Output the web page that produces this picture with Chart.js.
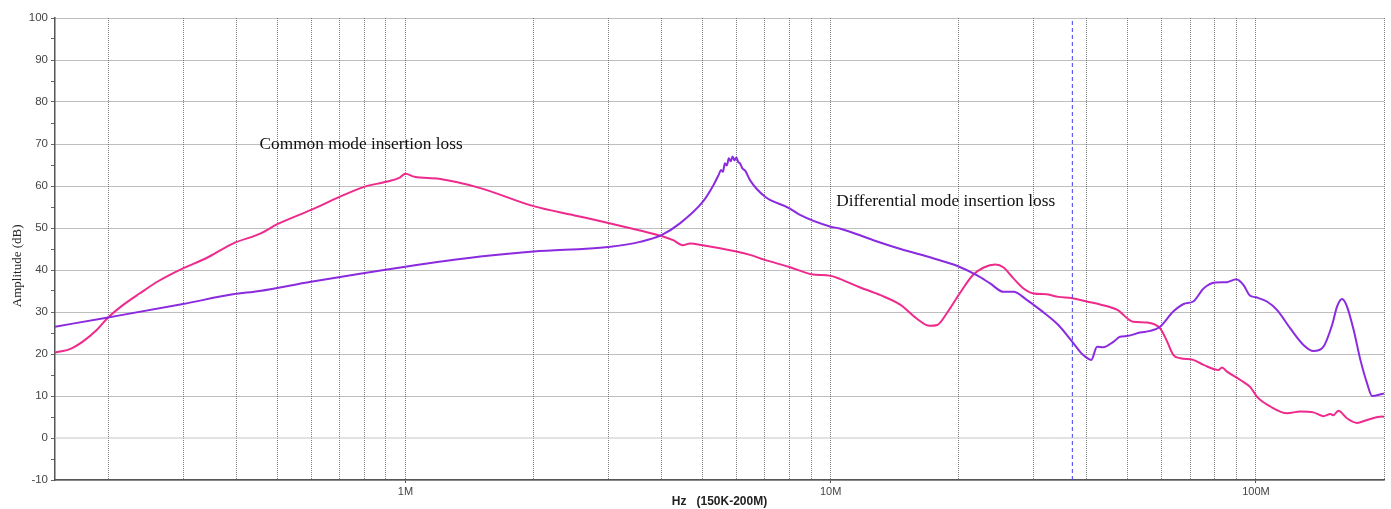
<!DOCTYPE html>
<html><head><meta charset="utf-8">
<script src="https://cdn.jsdelivr.net/npm/chart.js@4.4.1/dist/chart.umd.min.js"></script>
<style>html,body{margin:0;padding:0;background:#fff}#wrap{width:1391px;height:509px;position:relative}</style>
</head><body><div id="wrap"><canvas id="c" width="1391" height="509"></canvas></div>
<script>
// Common mode insertion loss (pink): frequency in MHz, amplitude in dB
const cmFreq = [0.15,0.151,0.162,0.174,0.188,0.2,0.217,0.237,0.264,0.3,0.34,0.393,0.454,0.5,0.6,0.7,0.8,0.9,0.97,1.0,1.05,1.2,1.5,2.0,2.5,3.0,3.56,4.0,4.26,4.49,4.67,5.0,6.0,6.46,7.0,8.0,9.0,10.0,10.5,11.7,13.1,14.6,15.9,17.1,17.8,18.75,20.1,21.6,22.9,24.4,25.5,26.9,28.4,30,32.2,34.3,37,40,43,47.2,51.4,55.5,59.5,61.6,63.9,66.4,71.2,75.3,81.7,83.2,85.5,91.9,97,100.6,108.1,118.3,127.1,136.5,144,149.6,152,156.2,163.7,172.8,182.5,198,200];
const cmDb = [20.3,20.4,21.1,22.9,25.7,28.7,31.7,34.4,37.5,40.4,42.8,46.3,48.6,50.9,54.3,57.4,59.8,61.0,62.0,62.9,62.2,61.7,59.5,55.2,53.0,51.2,49.4,48.1,47.1,45.9,46.3,45.9,44.4,43.6,42.4,40.7,39.0,38.6,37.9,35.9,34.0,31.7,28.5,26.7,26.9,29.7,34.4,38.8,40.6,41.3,40.6,38.0,35.6,34.4,34.2,33.6,33.3,32.5,31.8,30.5,27.7,27.5,26.1,23.3,19.8,19.0,18.6,17.4,16.2,16.8,15.8,13.8,12.1,9.8,7.5,5.9,6.3,6.1,5.2,5.7,5.4,6.5,4.7,3.6,4.3,5.1,5.0];

// Differential mode insertion loss (purple)
const dmFreq = [0.15,0.2,0.3,0.393,0.454,0.6,1.0,1.5,2.0,3.0,3.56,4.0,4.42,5.0,5.3,5.45,5.52,5.58,5.64,5.7,5.76,5.82,5.88,5.94,6.0,6.06,6.12,6.2,6.3,6.46,7.0,8.0,8.47,10.0,10.5,12.6,14.6,17.4,19.8,22.1,23.7,25.5,26.9,28.9,31.1,34.3,37,39.2,41,42.3,43.7,46.2,47.9,49.8,53.4,56.4,59.5,63.9,67.6,71.2,75.3,80.2,85.5,89.9,93.5,96.6,100,106.1,112,120.4,129.5,136.5,144,151,155.1,159.4,163.7,169.7,176,182.5,187.5,198,200];
const dmDb = [26.5,28.7,31.9,34.2,35.0,37.2,40.8,43.2,44.4,45.5,46.7,48.3,51.1,56.2,60.2,62.6,63.8,63.4,65.4,64.9,66.6,65.9,67.0,66.1,66.8,65.7,65.4,64.2,63.6,61.4,57.5,54.7,53.1,50.3,49.9,47.1,45.0,42.8,41.0,38.7,36.8,34.8,34.8,32.9,30.5,26.9,22.9,19.8,18.6,21.7,21.6,22.9,24.1,24.3,25.1,25.5,26.5,30.1,31.9,32.5,35.6,37.0,37.1,37.8,36.4,34.0,33.5,32.5,30.5,26.1,22.1,20.7,21.7,26.9,31.3,33.1,31.3,25.7,18.6,13.0,10.0,10.5,10.6];

// Vertical marker (blue dashed) and 0 dB reference line
const markerFreq = [37, 37];
const markerDb = [-10, 100];
const zeroFreq = [0.15, 200];
const zeroDb = [0, 0];

// Axis ticks
const xGridValues = [0.2,0.3,0.4,0.5,0.6,0.7,0.8,0.9,1,2,3,4,5,6,7,8,9,10,20,30,40,50,60,70,80,90,100,200];
const xLabelValues = [1, 10, 100];
const xLabelTexts = ['1M', '10M', '100M'];
const yTickValues = [-10,-5,0,5,10,15,20,25,30,35,40,45,50,55,60,65,70,75,80,85,90,95,100];

// Text annotations
const annoTexts = ['Common mode insertion loss', 'Differential mode insertion loss'];
const annoFreq = [0.454, 10.3];
const annoDb = [70, 56.4];
const yTitle = 'Amplitude (dB)';

const toPts = (xs, ys) => xs.map((x, i) => ({x: x, y: ys[i]}));

const annoPlugin = {
  id: 'anno',
  afterDatasetsDraw(chart) {
    const {ctx, scales} = chart;
    ctx.save();
    ctx.font = '17.3px "Liberation Serif", "Times New Roman", serif';
    ctx.fillStyle = '#111';
    ctx.textBaseline = 'middle';
    ctx.textAlign = 'left';
    annoTexts.forEach((t, i) => {
      ctx.fillText(t, scales.x.getPixelForValue(annoFreq[i]), scales.y.getPixelForValue(annoDb[i]));
    });
    // y axis title
    ctx.translate(18, scales.y.getPixelForValue(41));
    ctx.rotate(-Math.PI / 2);
    ctx.textAlign = 'center';
    ctx.font = '13px "Liberation Serif", "Times New Roman", serif';
    ctx.fillStyle = '#222';
    ctx.fillText(yTitle, 0, 0);
    ctx.restore();
  }
};

const labelFor = v => {
  const i = xLabelValues.findIndex(l => Math.abs(l - v) < 1e-9);
  return i >= 0 ? xLabelTexts[i] : '';
};

const gridCol = 'rgba(95,95,95,0.8)';

new Chart(document.getElementById('c'), {
  type: 'line',
  data: {
    datasets: [
      {data: toPts(zeroFreq, zeroDb), borderColor: '#c4c4c4', borderWidth: 1, pointRadius: 0},
      {data: toPts(markerFreq, markerDb), borderColor: '#3b3bf0', borderWidth: 1, borderDash: [4, 3], pointRadius: 0},
      {label: 'Differential mode', data: toPts(dmFreq, dmDb), borderColor: '#8b2be0', borderWidth: 2, pointRadius: 0, cubicInterpolationMode: 'monotone'},
      {label: 'Common mode', data: toPts(cmFreq, cmDb), borderColor: '#ee2a8c', borderWidth: 2, pointRadius: 0, cubicInterpolationMode: 'monotone'}
    ]
  },
  options: {
    responsive: false,
    animation: false,
    devicePixelRatio: 1,
    layout: {padding: {top: 18, right: 7, left: 0, bottom: 0}},
    plugins: {legend: {display: false}, tooltip: {enabled: false}},
    scales: {
      x: {
        type: 'logarithmic',
        min: 0.15, max: 200,
        afterBuildTicks: axis => { axis.ticks = xGridValues.map(v => ({value: v})); },
        afterFit: s => { s.height = 29; },
        ticks: {
          autoSkip: false, maxRotation: 0, minRotation: 0, padding: 2,
          color: '#444', font: {family: '"Liberation Sans", Arial, sans-serif', size: 11},
          callback: v => labelFor(v)
        },
        grid: {
          color: gridCol, lineWidth: 1, tickLength: 3,
          tickColor: c => labelFor(c.tick ? c.tick.value : 0) ? '#555' : 'rgba(0,0,0,0)'
        },
        border: {display: true, color: '#555', width: 1.5, dash: [1, 1]},
        title: {display: true, text: 'Hz   (150K-200M)', color: '#222', padding: {top: 0, bottom: 0},
          font: {family: '"Liberation Sans", Arial, sans-serif', size: 12, weight: 'bold'}}
      },
      y: {
        min: -10, max: 100,
        afterBuildTicks: axis => { axis.ticks = yTickValues.map(v => ({value: v})); },
        afterFit: s => { s.width = 55; },
        ticks: {
          autoSkip: false, padding: 3,
          color: '#444', font: {family: '"Liberation Sans", Arial, sans-serif', size: 11.5},
          callback: v => (v % 10 === 0 ? String(v) : '')
        },
        grid: {
          color: c => (c.tick && c.tick.value % 10 === 0 && c.tick.value !== 0) ? gridCol : 'rgba(0,0,0,0)',
          lineWidth: 1, tickLength: 4, tickColor: '#666'
        },
        border: {display: true, color: '#555', width: 1.5, dash: [1, 1]}
      }
    }
  },
  plugins: [annoPlugin]
});
</script>
</body></html>
